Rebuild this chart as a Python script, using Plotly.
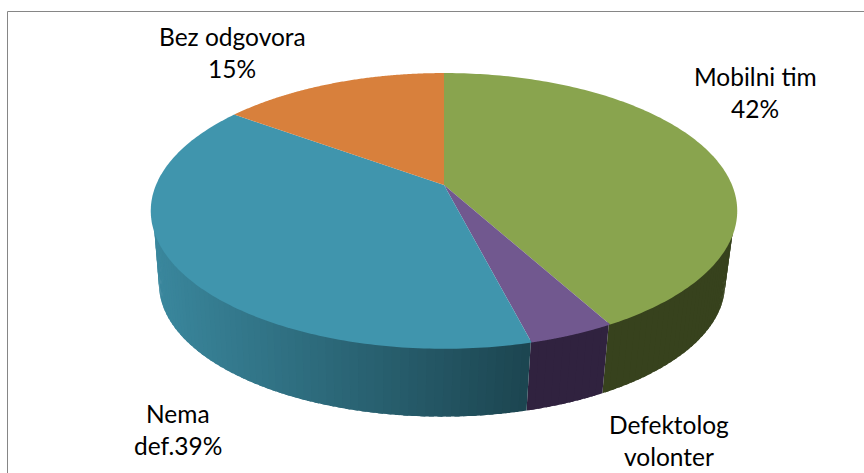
import numpy as np
import plotly.graph_objects as go

categories = ["Mobilni tim", "Defektolog volonter", "Nema def.", "Bez odgovora"]
values = [42, 4, 39, 15]
top_colors = ["#89A44E", "#71588F", "#4095AD", "#D8803C"]
wall_left = ["#37421D", "#30223F", "#3A879D", "#8A5020"]
wall_right = ["#37421D", "#30223F", "#1C4550", "#8A5020"]
label_lines = [["Mobilni tim", "42%"], ["Defektolog", "volonter"],
               ["Nema", "def.39%"], ["Bez odgovora", "15%"]]
label_centres = [(755, 76), (669, 424), (178, 413), (232, 36)]

FONT = "Lato"
PERSP = -0.188


def project(theta, cx, cy, sx, sy):
    u, v = np.sin(theta), -np.cos(theta)
    w = 1 + PERSP * v
    return cx + sx * u / w, cy + sy * v / w


def top(theta):
    return project(theta, 444, 185, 288, 133)


def wall_top(theta):
    return project(theta, 444, 184.5, 286, 131)


def bottom(theta):
    return project(theta, 442, 259, 278, 128)


def hex_rgb(h):
    return np.array([int(h[i:i + 2], 16) for i in (1, 3, 5)], float)


def mix(a, b, t):
    c = hex_rgb(a) * (1 - t) + hex_rgb(b) * t
    return "rgb(%d,%d,%d)" % tuple(np.round(c))


fig = go.Figure()
fractions = np.cumsum([0] + values) / sum(values)

walls = []
for i in range(len(values)):
    a0, a1 = 2 * np.pi * fractions[i], 2 * np.pi * fractions[i + 1]
    steps = max(2, int(np.ceil(values[i] * 2.5)))
    edges = np.linspace(a0, a1, steps + 1)
    tx, _ = top(edges)
    lo, hi = tx.min(), tx.max()
    for j in range(steps):
        mid = (edges[j] + edges[j + 1]) / 2
        if -np.cos(mid) < 0.1:
            continue
        t = (top(mid)[0] - lo) / (hi - lo)
        # each band runs a little under the next so no seam shows
        end = min(edges[j + 1] + (edges[j + 1] - edges[j]) * 0.6, a1)
        walls.append((mid, edges[j], end, mix(wall_left[i], wall_right[i], t)))

for _, e0, e1, col in sorted(walls, key=lambda r: r[0]):
    s = np.linspace(e0, e1, 4)
    xt, yt = wall_top(s)
    xb, yb = bottom(s)
    fig.add_trace(go.Scatter(
        x=np.r_[xt, xb[::-1], xt[0]], y=np.r_[yt, yb[::-1], yt[0]],
        mode="none", fill="toself", fillcolor=col,
        hoverinfo="skip", showlegend=False))

for i, name in enumerate(categories):
    s = np.linspace(2 * np.pi * fractions[i], 2 * np.pi * fractions[i + 1], 160)
    xt, yt = top(s)
    fig.add_trace(go.Scatter(
        x=np.r_[444, xt, 444], y=np.r_[185, yt, 185],
        mode="none", fill="toself", fillcolor=top_colors[i], name=name,
        hoverinfo="name", showlegend=False))

annotations = []
for lines, (cx, cy) in zip(label_lines, label_centres):
    for k, text in enumerate(lines):
        annotations.append(dict(x=cx, y=cy + k * 32, xref="x", yref="y", text=text,
                                showarrow=False, xanchor="center", yanchor="middle",
                                font=dict(family=FONT, size=24.5, color="#000000")))

fig.update_layout(
    width=864, height=473, autosize=False,
    margin=dict(l=0, r=0, t=0, b=0),
    paper_bgcolor="white", plot_bgcolor="white",
    xaxis=dict(range=[0, 864], visible=False, fixedrange=True),
    yaxis=dict(range=[473, 0], visible=False, fixedrange=True),
    annotations=annotations,
    shapes=[dict(type="line", xref="x", yref="y", x0=7.5, x1=7.5, y0=11.5, y1=473,
                 line=dict(color="#868686", width=1)),
            dict(type="line", xref="x", yref="y", x0=7.5, x1=864, y0=11.5, y1=11.5,
                 line=dict(color="#868686", width=1))],
)
fig.write_html("out.html", config=dict(displayModeBar=False),
               post_script="document.body.style.margin='0';document.body.style.overflow='hidden';")
